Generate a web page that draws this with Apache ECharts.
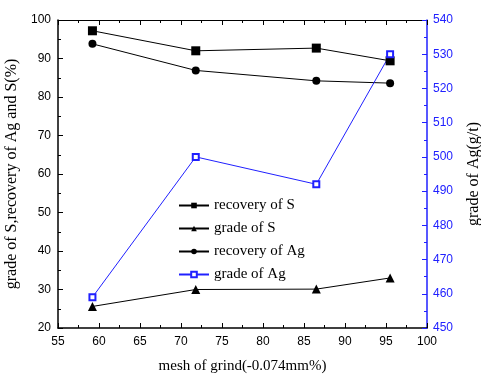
<!DOCTYPE html>
<html>
<head>
<meta charset="utf-8">
<script src="https://cdn.jsdelivr.net/npm/echarts@6/dist/echarts.min.js"></script>
<style>
html, body { margin: 0; padding: 0; background: #fff; }
#main { width: 481px; height: 375px; }
</style>
</head>
<body>
<div id="main"></div>
<script>
var mesh = [59.2, 71.8, 86.5, 95.5];
var recoveryS = [97.2, 92.0, 92.7, 89.4];
var gradeS = [25.6, 30.0, 30.1, 33.0];
var recoveryAg = [93.8, 86.9, 84.2, 83.6];
var gradeAg = [459, 500, 492, 530];

function pairs(ys) { return mesh.map(function (x, i) { return [x, ys[i]]; }); }

var chart = echarts.init(document.getElementById('main'));
var serif = '"Liberation Serif", "Times New Roman", serif';
var sans = '"Liberation Sans", Arial, sans-serif';
var blue = '#2020ff';

var tickStyle = {
    axisTick: { show: true, inside: true, length: 5, lineStyle: { color: '#000' } },
    minorTick: { show: true, splitNumber: 2, length: 3, lineStyle: { color: '#000' } },
    splitLine: { show: false },
    minorSplitLine: { show: false }
};

var option = {
    animation: false,
    backgroundColor: '#fff',
    grid: { left: 58, right: 54, top: 20, bottom: 47, outerBoundsMode: 'none', containLabel: false },
    legend: {
        orient: 'vertical',
        left: 173,
        top: 193,
        itemWidth: 30,
        itemHeight: 7,
        itemGap: 8,
        textStyle: { fontFamily: serif, fontSize: 15, color: '#000' },
        data: ['recovery of S', 'grade of S', 'recovery of Ag', 'grade of Ag']
    },
    xAxis: [
        Object.assign({
            type: 'value', min: 55, max: 100, interval: 5,
            name: 'mesh of grind(-0.074mm%)',
            nameLocation: 'middle', nameGap: 31,
            nameTextStyle: { fontFamily: serif, fontSize: 15, color: '#000' },
            axisLine: { show: true, lineStyle: { color: '#000', width: 1.5 } },
            axisLabel: { fontFamily: sans, fontSize: 12, color: '#000', margin: 8 }
        }, tickStyle),
        Object.assign({
            type: 'value', min: 55, max: 100, interval: 5, position: 'top',
            axisLine: { show: true, lineStyle: { color: '#000', width: 1 } },
            axisLabel: { show: false }
        }, tickStyle)
    ],
    yAxis: [
        Object.assign({
            type: 'value', min: 20, max: 100, interval: 10,
            name: 'grade of S,recovery of Ag and S(%)',
            nameLocation: 'middle', nameGap: 21, nameRotate: 90,
            nameTextStyle: { fontFamily: serif, fontSize: 16, color: '#000' },
            axisLine: { show: true, lineStyle: { color: '#000', width: 1.5 } },
            axisLabel: { fontFamily: sans, fontSize: 12, color: '#000', margin: 7 }
        }, tickStyle),
        {
            type: 'value', min: 450, max: 540, interval: 10, position: 'right',
            name: 'grade of Ag(g/t)',
            nameLocation: 'middle', nameGap: 39, nameRotate: 90,
            nameTextStyle: { fontFamily: serif, fontSize: 16, color: '#000' },
            axisLine: { show: true, lineStyle: { color: blue, width: 1.5 } },
            axisTick: { show: true, inside: true, length: 5, lineStyle: { color: blue } },
            minorTick: { show: true, splitNumber: 2, length: 3, lineStyle: { color: blue } },
            axisLabel: { fontFamily: sans, fontSize: 12, color: blue, margin: 6 },
            splitLine: { show: false }
        }
    ],
    series: [
        {
            name: 'recovery of S', type: 'line', data: pairs(recoveryS),
            symbol: 'rect', symbolSize: 9,
            itemStyle: { color: '#000' }, lineStyle: { color: '#000', width: 1 }
        },
        {
            name: 'grade of S', type: 'line', data: pairs(gradeS),
            symbol: 'triangle', symbolSize: 9,
            itemStyle: { color: '#000' }, lineStyle: { color: '#000', width: 1 }
        },
        {
            name: 'recovery of Ag', type: 'line', data: pairs(recoveryAg),
            symbol: 'circle', symbolSize: 8,
            itemStyle: { color: '#000' }, lineStyle: { color: '#000', width: 1 }
        },
        {
            name: 'grade of Ag', type: 'line', yAxisIndex: 1, data: pairs(gradeAg),
            symbol: 'emptyRect', symbolSize: 6,
            itemStyle: { color: blue, borderColor: blue, borderWidth: 1 },
            lineStyle: { color: blue, width: 1 }
        }
    ]
};
chart.setOption(option);
</script>
</body>
</html>
